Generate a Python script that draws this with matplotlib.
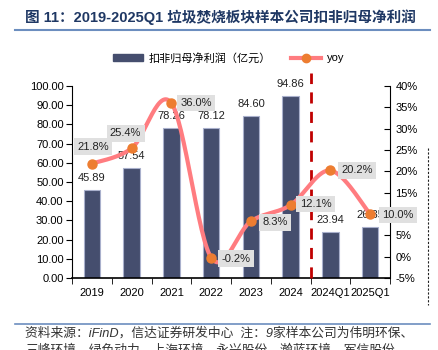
import numpy as np
import matplotlib
matplotlib.use('Agg')
import matplotlib.pyplot as plt
from matplotlib.lines import Line2D

plt.rcParams['font.family'] = ['Liberation Sans', 'Noto Sans CJK SC', 'DejaVu Sans']

# données
categories = ['2019', '2020', '2021', '2022', '2023', '2024', '2024Q1', '2025Q1']
profit = [45.89, 57.54, 78.26, 78.12, 84.60, 94.86, 23.94, 26.35]
yoy = [21.8, 25.4, 36.0, -0.2, 8.3, 12.1, 20.2, 10.0]
profit_labels = ['45.89', '57.54', '78.26', '78.12', '84.60', '94.86', '23.94', '26.35']
yoy_labels = ['21.8%', '25.4%', '36.0%', '-0.2%', '8.3%', '12.1%', '20.2%', '10.0%']

bar_color = '#454E6E'
line_color = '#FF7C80'
marker_color = '#ED7D31'

fig = plt.figure(figsize=(4.38, 3.5), dpi=100)
ax = fig.add_axes([72 / 438, 1 - 278 / 350, 318 / 438, 192 / 350])
ax2 = ax.twinx()

x = np.arange(len(categories))
ax.bar(x, profit, width=0.42, color=bar_color, edgecolor='#A9B0CC', linewidth=0.8, zorder=2)
for xi, v, lab in zip(x, profit, profit_labels):
    ax.annotate(lab, (xi, v), xytext=(0, 12), textcoords='offset pixels',
                ha='center', va='center', fontsize=8, color='#222222')

ax.set_xlim(-0.5, len(categories) - 0.5)
ax.set_ylim(0, 100)
ax.set_yticks(np.arange(0, 101, 10))
ax.set_yticklabels(['%.2f' % t for t in np.arange(0, 101, 10)], fontsize=8)
ax.set_xticks(x)
ax.set_xticklabels(categories, fontsize=8)
ax.set_xticks(np.arange(-0.5, len(categories), 1), minor=True)
ax.tick_params(axis='x', which='major', length=0, pad=7)
ax.tick_params(axis='x', which='minor', length=4, direction='out')
ax.tick_params(axis='y', length=4, direction='out', pad=2)
for s in ['top', 'right']:
    ax.spines[s].set_visible(False)
ax.spines['bottom'].set_linewidth(1.2)

# courbe lissée (type Excel, Catmull-Rom)
def lissage(xs, ys, n=30):
    xs = np.asarray(xs, float)
    ys = np.asarray(ys, float)
    px = np.concatenate([[xs[0]], xs, [xs[-1]]])
    py = np.concatenate([[ys[0]], ys, [ys[-1]]])
    out_x, out_y = [], []
    for i in range(1, len(px) - 2):
        p0, p1, p2, p3 = [np.array([px[j], py[j]]) for j in (i - 1, i, i + 1, i + 2)]
        c1 = p1 + (p2 - p0) / 6
        c2 = p2 - (p3 - p1) / 6
        t = np.linspace(0, 1, n)[:, None]
        b = (1 - t) ** 3 * p1 + 3 * (1 - t) ** 2 * t * c1 + 3 * (1 - t) * t ** 2 * c2 + t ** 3 * p2
        out_x.extend(b[:, 0])
        out_y.extend(b[:, 1])
    return out_x, out_y

sx, sy = lissage(x, yoy)
ax2.plot(sx, sy, color=line_color, linewidth=3, zorder=3, solid_capstyle='round')
ax2.plot(x, yoy, 'o', color=marker_color, markersize=6.5, zorder=4)

offsets = [(1, 17), (-6, 15), (25, 0), (25, -1), (24, -1), (25, 1), (27, 0), (28, -1)]
for xi, v, lab, off in zip(x, yoy, yoy_labels, offsets):
    ax2.annotate(lab, (xi, v), xytext=off, textcoords='offset pixels',
                 ha='center', va='center', fontsize=8, color='#222222', zorder=5,
                 bbox=dict(boxstyle='square,pad=0.3', facecolor='#E0E0E0', edgecolor='none'))

ax2.set_ylim(-5, 40)
ax2.set_yticks(np.arange(-5, 41, 5))
ax2.set_yticklabels(['%d%%' % t for t in np.arange(-5, 41, 5)], fontsize=8)
ax2.tick_params(axis='y', length=4, direction='in', pad=4)
for s in ['top', 'left', 'bottom']:
    ax2.spines[s].set_visible(False)
ax.set_zorder(ax2.get_zorder() - 1)
ax.patch.set_visible(True)
ax2.patch.set_visible(False)

# ligne verticale pointillée rouge
ax.plot([5.5, 5.5], [0, 107], color='#C00000', linestyle=(0, (4, 3)), linewidth=2,
        clip_on=False, zorder=3)

# légende
handles = [plt.Rectangle((0, 0), 1, 1, color=bar_color),
           Line2D([], [], color=line_color, linewidth=3, marker='o',
                  markerfacecolor=marker_color, markeredgecolor=marker_color, markersize=6)]
fig.legend(handles, ['扣非归母净利润（亿元）', 'yoy'], loc='center', bbox_to_anchor=(0.522, 1 - 58 / 350),
           ncol=2, frameon=False, fontsize=8, handlelength=2.7, columnspacing=1.8,
           handletextpad=0.5)

# titre et source
fig.text(25 / 438, 1 - 17 / 350, '图 11：2019-2025Q1 垃圾焚烧板块样本公司扣非归母净利润',
         fontsize=10.5, fontweight='bold', color='#1F3864', va='center', ha='left')
fig.add_artist(Line2D([15 / 438, 430 / 438], [1 - 30 / 350] * 2, color='#6C8EBF', linewidth=1.5))
fig.add_artist(Line2D([15 / 438, 430 / 438], [1 - 324 / 350] * 2, color='#6C8EBF', linewidth=1.2))
fig.add_artist(Line2D([428 / 438, 428 / 438], [1 - 148 / 350, 1 - 305 / 350], color='#222222',
                      linewidth=0.8, linestyle=(0, (2, 1.5))))
fig.text(25 / 438, 1 - 333 / 350, '资料来源：iFinD，信达证券研发中心  注：9家样本公司为伟明环保、',
         fontsize=9.2, style='italic', color='#333333', va='center', ha='left')
fig.text(25 / 438, 1 - 351 / 350, '三峰环境、绿色动力、上海环境、永兴股份、瀚蓝环境、军信股份、',
         fontsize=9.2, style='italic', color='#333333', va='center', ha='left')

fig.savefig('out.png', dpi=100)
